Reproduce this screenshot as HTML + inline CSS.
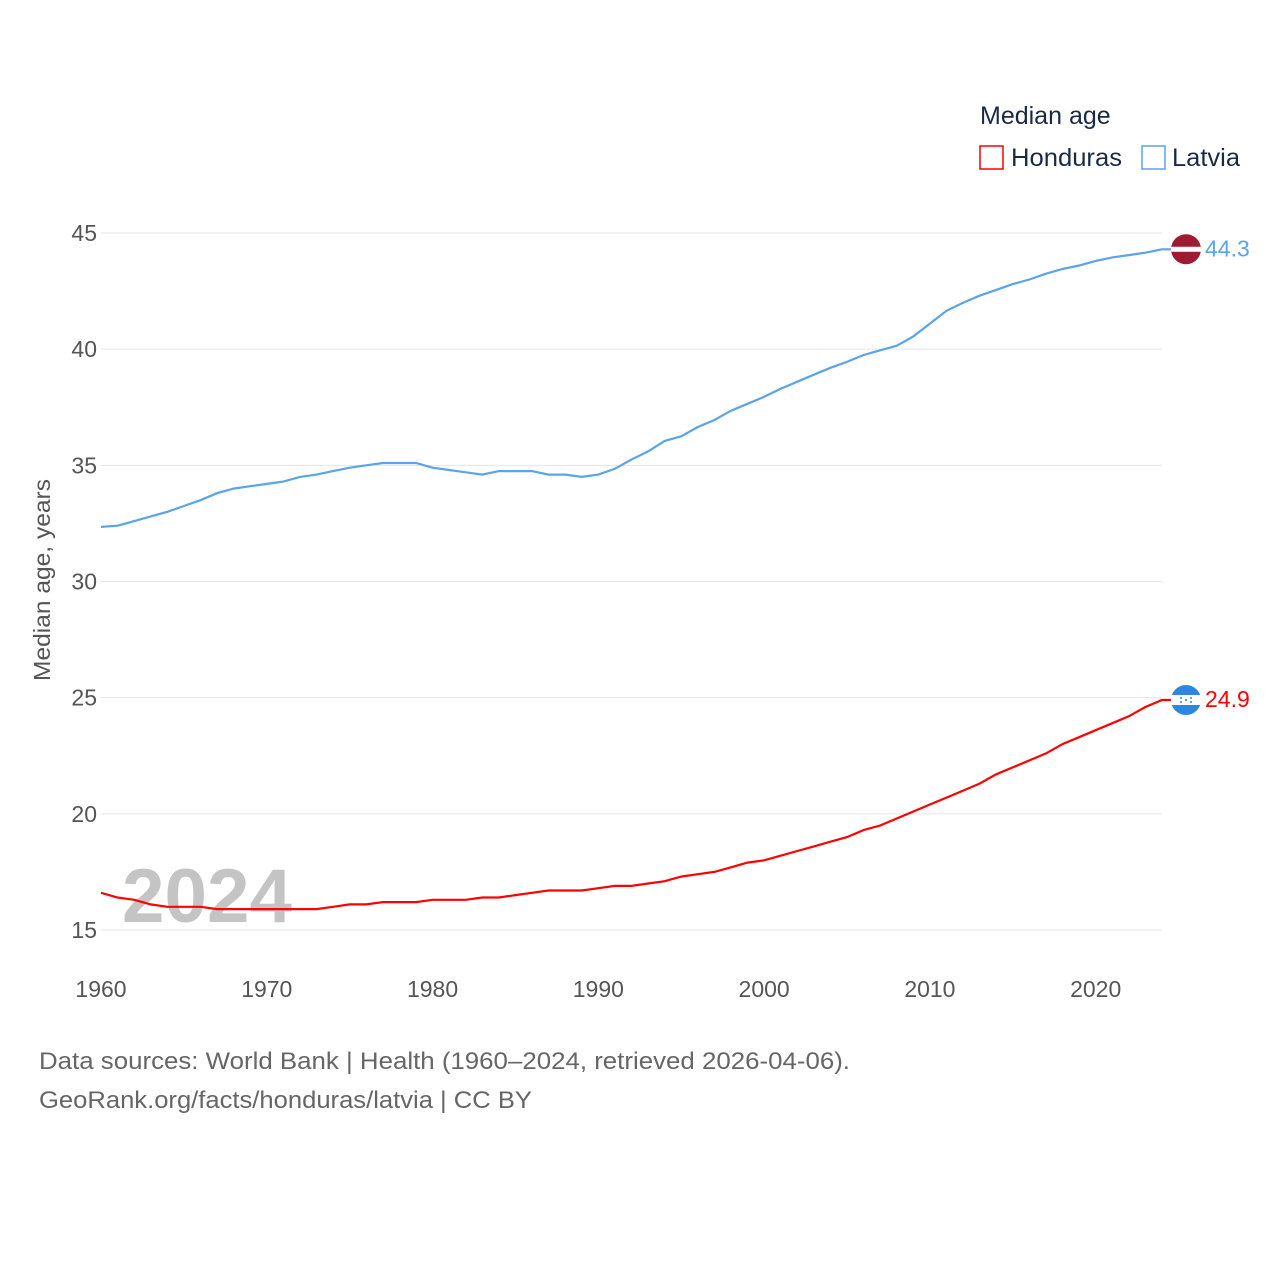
<!DOCTYPE html>
<html><head><meta charset="utf-8"><style>
body{margin:0;background:#fff;width:1280px;height:1280px;overflow:hidden;font-family:"Liberation Sans",sans-serif}
svg text{font-family:"Liberation Sans",sans-serif}
</style></head><body>
<svg id="chart" width="1280" height="1280" viewBox="0 0 1280 1280" xmlns="http://www.w3.org/2000/svg">
<g id="grid"></g>
<g id="yt"></g>
<g id="xt"></g>
<text x="122" y="922" font-size="76" font-weight="bold" fill="#c4c4c4" textLength="170" lengthAdjust="spacingAndGlyphs">2024</text>
<text transform="translate(50,580) rotate(-90)" text-anchor="middle" font-size="23" fill="#555" textLength="202" lengthAdjust="spacingAndGlyphs">Median age, years</text>
<g id="series"></g>
<g>
<text x="980" y="124" font-size="25" fill="#1a2a44">Median age</text>
<rect x="980" y="146" width="23" height="23" fill="none" stroke="#ff0000" stroke-width="1.5"/>
<text x="1011" y="166" font-size="25" fill="#1a2a44" textLength="111" lengthAdjust="spacingAndGlyphs">Honduras</text>
<rect x="1142" y="146" width="23" height="23" fill="none" stroke="#5ba4e8" stroke-width="1.5"/>
<text x="1172" y="166" font-size="25" fill="#1a2a44" textLength="68" lengthAdjust="spacingAndGlyphs">Latvia</text>
</g>
<text x="39" y="1069" font-size="24" fill="#666" textLength="811" lengthAdjust="spacingAndGlyphs">Data sources: World Bank | Health (1960–2024, retrieved 2026-04-06).</text>
<text x="39" y="1108" font-size="24" fill="#666" textLength="493" lengthAdjust="spacingAndGlyphs">GeoRank.org/facts/honduras/latvia | CC BY</text>
</svg>
<script>
const years=[];for(let y=1960;y<=2024;y++)years.push(y);
const latvia=[32.35,32.4,32.6,32.8,33.0,33.25,33.5,33.8,34.0,34.1,34.2,34.3,34.5,34.6,34.75,34.9,35.0,35.1,35.1,35.1,34.9,34.8,34.7,34.6,34.75,34.75,34.75,34.6,34.6,34.5,34.6,34.85,35.25,35.6,36.05,36.25,36.65,36.95,37.35,37.65,37.95,38.3,38.6,38.9,39.2,39.45,39.75,39.95,40.15,40.55,41.1,41.65,42.0,42.3,42.55,42.8,43.0,43.25,43.45,43.6,43.8,43.95,44.05,44.15,44.3];
const honduras=[16.6,16.4,16.3,16.1,16.0,16.0,16.0,15.9,15.9,15.9,15.9,15.9,15.9,15.9,16.0,16.1,16.1,16.2,16.2,16.2,16.3,16.3,16.3,16.4,16.4,16.5,16.6,16.7,16.7,16.7,16.8,16.9,16.9,17.0,17.1,17.3,17.4,17.5,17.7,17.9,18.0,18.2,18.4,18.6,18.8,19.0,19.3,19.5,19.8,20.1,20.4,20.7,21.0,21.3,21.7,22.0,22.3,22.6,23.0,23.3,23.6,23.9,24.2,24.6,24.9];
const yTicks=[15,20,25,30,35,40,45];
const xTicks=[1960,1970,1980,1990,2000,2010,2020];
const X=v=>101+(v-1960)*(1162-101)/64;
const Y=v=>930-(v-15)*(930-233)/30;
const NS="http://www.w3.org/2000/svg";
function mk(t,a,p){const e=document.createElementNS(NS,t);for(const k in a)e.setAttribute(k,a[k]);p.appendChild(e);return e;}
const grid=document.getElementById('grid'),yt=document.getElementById('yt'),xt=document.getElementById('xt'),ser=document.getElementById('series');
yTicks.forEach(v=>{
 const l=mk('line',{x1:101,x2:1162,y1:Y(v),y2:Y(v),stroke:'#e6e6e6','stroke-width':1},grid);
 
 
 const t=mk('text',{x:97,y:Y(v)+8,'text-anchor':'end','font-size':23,fill:'#555'},yt);t.textContent=v;
 
 
});
xTicks.forEach(v=>{
 const t=mk('text',{x:X(v),y:997,'text-anchor':'middle','font-size':23,fill:'#555'},xt);t.textContent=v;
 
 
});
function line(vals,color,name){
 const d=vals.map((v,i)=>(i?'L':'M')+X(years[i]).toFixed(1)+','+Y(v).toFixed(1)).join('')+'L1175,'+Y(vals[vals.length-1]).toFixed(1);
 const p=mk('path',{d:d,fill:'none',stroke:color,'stroke-width':2.2},ser);
 
 
 const last=vals[vals.length-1];
 const t=mk('text',{x:1205,y:Y(last)+7,'font-size':23,fill:color},ser);t.textContent=last.toFixed(1);
 
 
}
line(latvia,'#5ba4e8','latvia');
line(honduras,'#ff0000','honduras');
const cy1=Y(latvia[latvia.length-1]),cy2=Y(honduras[honduras.length-1]);
const f1=mk('g',{transform:`translate(1186,${cy1})`},ser);


mk('circle',{r:15,fill:'#9e1b32'},f1);mk('rect',{x:-15,y:-2.5,width:30,height:5,fill:'#fff'},f1);
const f2=mk('g',{transform:`translate(1186,${cy2})`},ser);


mk('circle',{r:15,fill:'#2f86e0'},f2);mk('rect',{x:-15,y:-5,width:30,height:10,fill:'#fff'},f2);
[[-5,-2],[5,-2],[0,0],[-5,2],[5,2]].forEach(p=>mk('circle',{cx:p[0],cy:p[1],r:1,fill:'#2f86e0'},f2));
</script>
</body></html>
